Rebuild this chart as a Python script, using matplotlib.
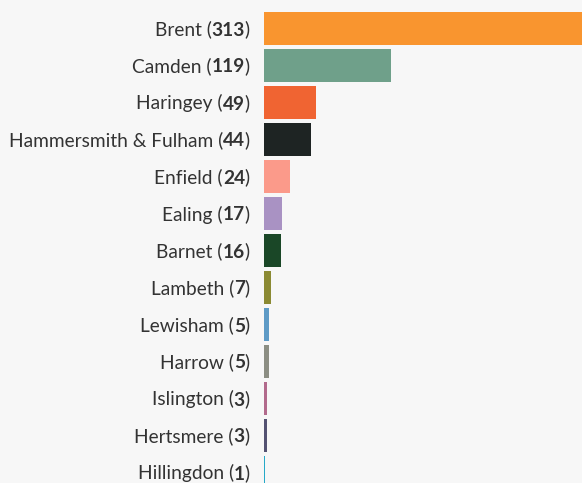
import matplotlib.pyplot as plt

boroughs = ["Brent", "Camden", "Haringey", "Hammersmith & Fulham", "Enfield", "Ealing",
            "Barnet", "Lambeth", "Lewisham", "Harrow", "Islington", "Hertsmere", "Hillingdon"]
counts = [313, 119, 49, 44, 24, 17, 16, 7, 5, 5, 3, 3, 1]
colors = ["#f9952f", "#6fa08a", "#f06432", "#1e2423", "#fb9a8a", "#a992c3", "#1a4727",
          "#8b8a33", "#5e9bc6", "#8c8e83", "#b26a8c", "#545272", "#26a9c8"]

bg = "#f7f7f7"
fig = plt.figure(figsize=(5.82, 4.83), dpi=100, facecolor=bg)
ax = fig.add_axes([264 / 582, 0, 318 / 582, 1])
ax.set_facecolor(bg)

ypos = list(range(len(boroughs)))
ax.barh(ypos, counts, height=33 / 37, color=colors)

# about 1.07 px per unit, Brent runs off the edge
ax.set_xlim(0, 318 / 1.07)
ax.set_ylim(12 + 10.5 / 37, -28.5 / 37)
ax.axis("off")

font = "Lato"
txt_color = "#333333"
fs = 13.8
for i, (name, n) in enumerate(zip(boroughs, counts)):
    yb = i + 7 / 37
    t1 = ax.annotate(")", xy=(0, yb), xycoords=("axes fraction", "data"),
                     xytext=(-14 * 72 / 100, 0), textcoords="offset points",
                     ha="right", va="baseline", fontsize=fs, family=font, color=txt_color)
    t2 = ax.annotate(str(n), xy=(0, yb), xycoords=(t1, "data"),
                     ha="right", va="baseline", fontsize=fs, family=font,
                     fontweight="bold", color=txt_color)
    ax.annotate(name + " (", xy=(0, yb), xycoords=(t2, "data"),
                ha="right", va="baseline", fontsize=fs, family=font, color=txt_color)

fig.savefig("out.png", dpi=100, facecolor=bg)
